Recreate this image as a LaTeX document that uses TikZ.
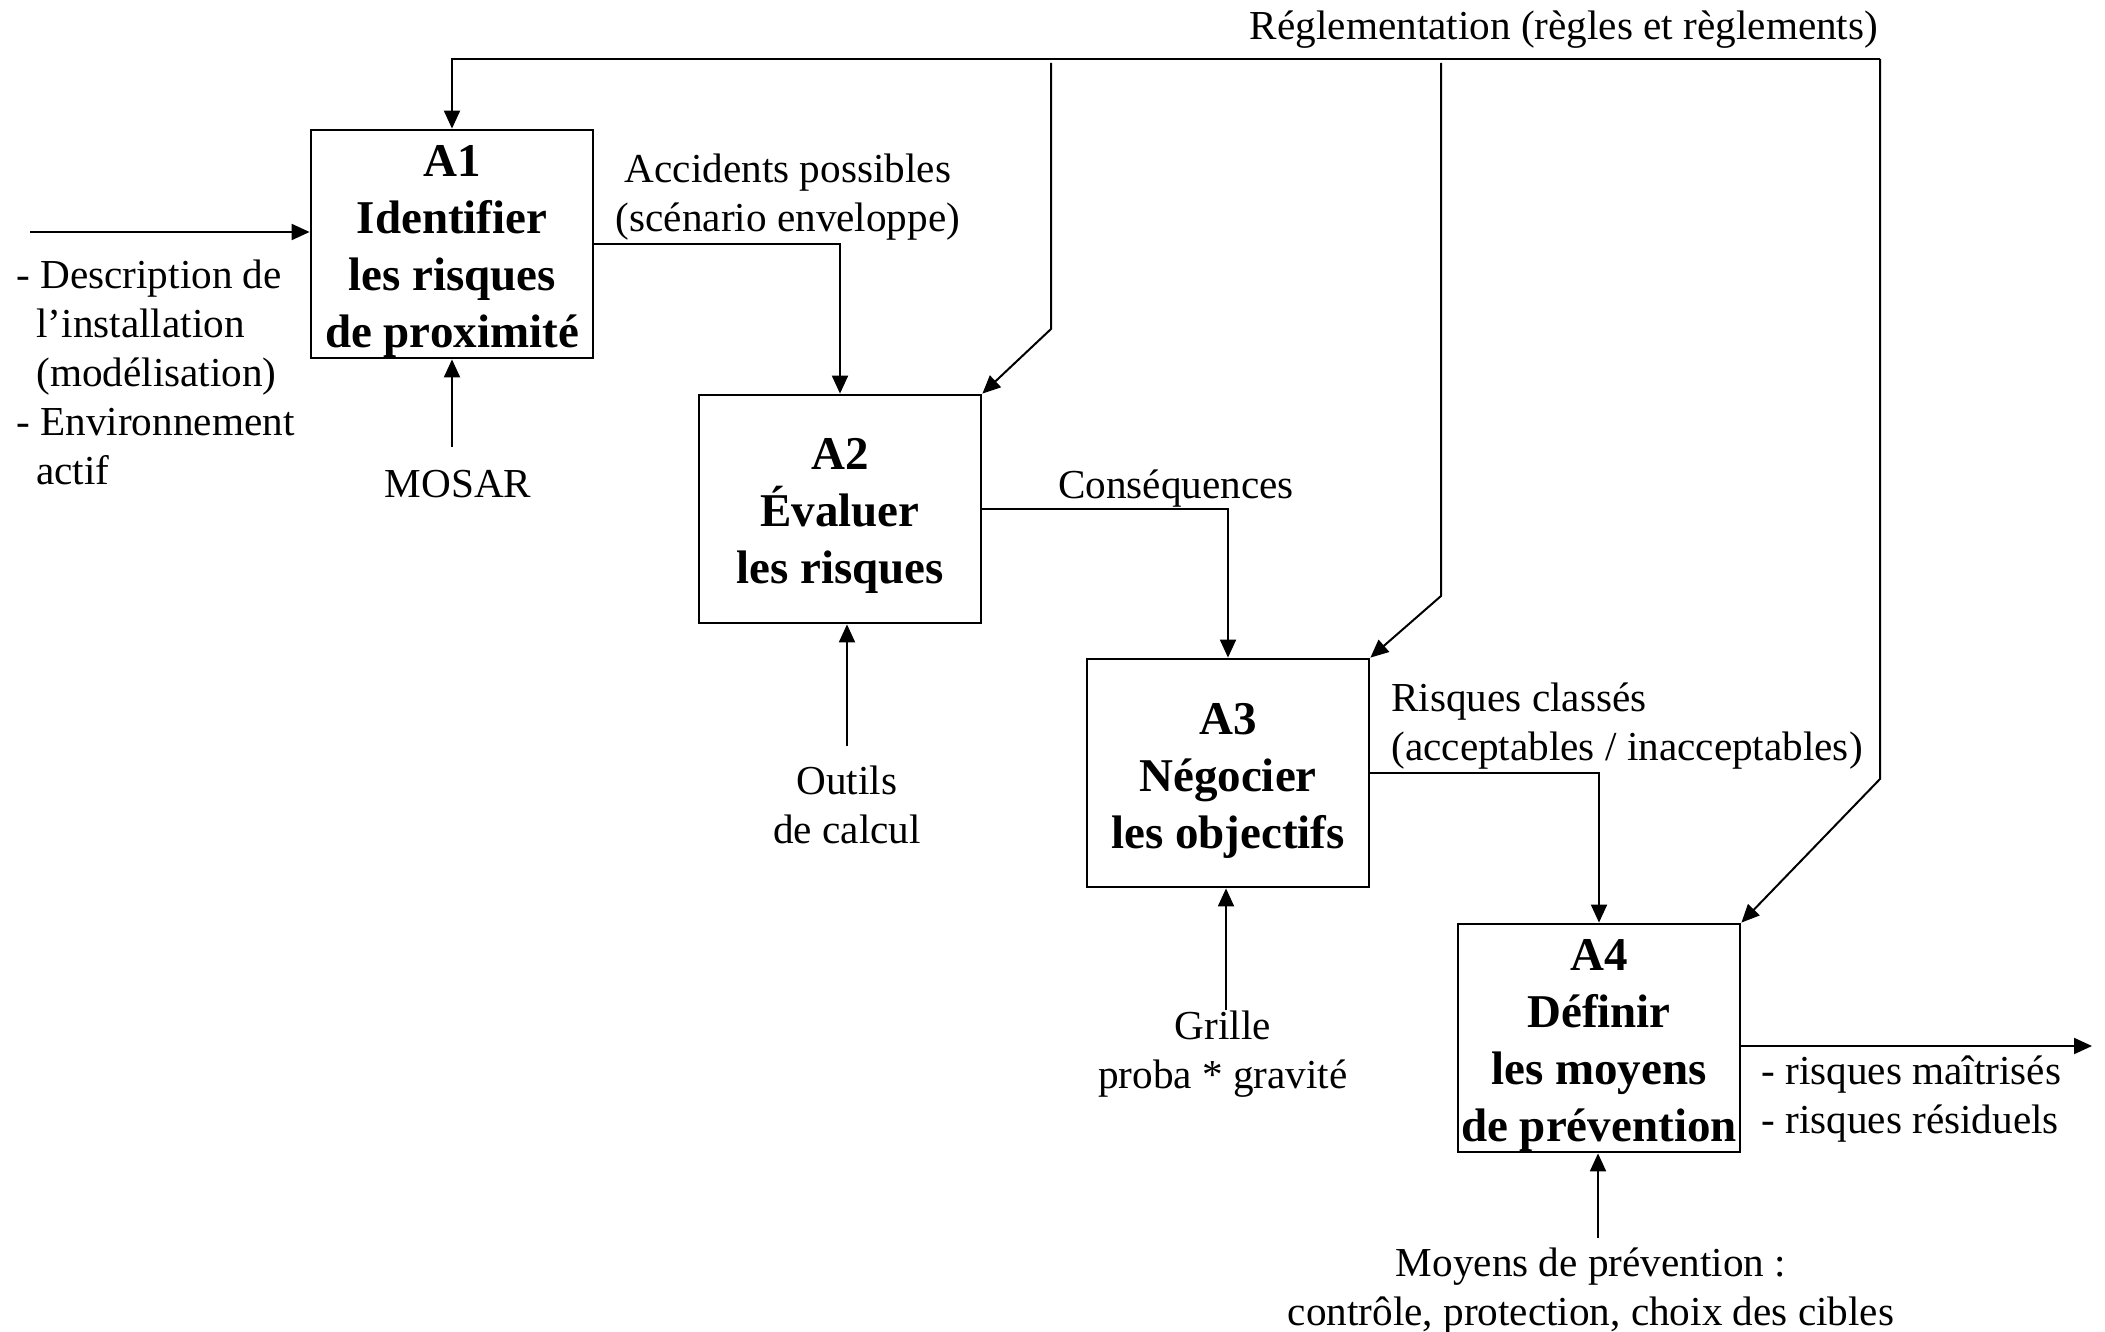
\documentclass[tikz,border=0pt]{standalone}
\usepackage{fontspec}
\setmainfont{Liberation Serif}
\usetikzlibrary{arrows.meta}
\begin{document}
\begin{tikzpicture}[x=0.5pt,y=-0.5pt,
  box/.style={draw, line width=1.4pt, minimum width=141pt, minimum height=114pt,
    inner sep=0pt, align=center, font=\fontsize{23.5}{28.5}\selectfont\bfseries},
  lbl/.style={inner sep=0pt, font=\fontsize{20.6}{24.5}\selectfont},
  flow/.style={line width=1pt, -{Triangle[length=9pt,width=8pt]}},
  plain/.style={line width=1pt}
]
\useasboundingbox (0,0) rectangle (2105,1332);

% activity boxes (first-line strut lowers the text block slightly)
\newcommand\firstline{\rule{0pt}{23pt}}
\node[box] (A1) at (452,244) {\firstline A1\\Identifier\\les risques\\de proximité};
\node[box] (A2) at (840,509) {\firstline A2\\Évaluer\\les risques};
\node[box] (A3) at (1228,773) {\firstline A3\\Négocier\\les objectifs};
\node[box] (A4) at (1599,1038) {\firstline A4\\Définir\\les moyens\\de prévention};

% control: regulations
\node[lbl] (reg) at (1564,30) {Réglementation (règles et règlements)};
\coordinate (topR) at (1880,59);
\coordinate (topL) at (A1.north |- topR);
\draw[flow] (topR) -- (topL) -- (A1.north);
\coordinate (c2a) at (1051,63);
\coordinate (c2b) at (1051,329);
\draw[flow] (c2a) -- (c2b) -- (A2.north east);
\coordinate (c3a) at (1441,63);
\coordinate (c3b) at (1441,596);
\draw[flow] (c3a) -- (c3b) -- (A3.north east);
\coordinate (c4b) at (1880,779);
\draw[flow] (topR) -- (c4b) -- (A4.north east);

% input
\coordinate (in) at (30,232);
\draw[flow] (in) -- (in -| A1.west);
\node[lbl, align=left, anchor=west] (inlbl) at (16,372)
  {- Description de\\\hspace*{10pt}l’installation\\\hspace*{10pt}(modélisation)\\- Environnement\\\hspace*{10pt}actif};

% outputs between activities
\draw[flow] (A1.east) -| (A2.north);
\node[lbl, align=center] (o1) at (788,197) {Accidents possibles\\(scénario enveloppe)};
\draw[flow] (A2.east) -| (A3.north);
\node[lbl] (o2) at (1176,489) {Conséquences};
\draw[flow] (A3.east) -| (A4.north);
\node[lbl, align=left, anchor=west] (o3) at (1391,726) {Risques classés\\(acceptables / inacceptables)};

% final output
\coordinate (out) at (2092,1046);
\draw[flow] (A4.east |- out) -- (out);
\node[lbl, align=left, anchor=west] (o4) at (1761,1099) {- risques maîtrisés\\- risques résiduels};

% mechanisms
\node[lbl] (m1) at (458,484) {MOSAR};
\coordinate (m1a) at (452,447);
\draw[flow] (m1a) -- (A1.south);
\node[lbl, align=center] (m2) at (847,805) {Outils\\de calcul};
\coordinate (m2a) at (847,746);
\draw[flow] (m2a) -- (A2.south -| m2a);
\node[lbl, align=center] (m3) at (1223,1054) {Grille\\proba * gravité};
\coordinate (m3a) at (1226,1010);
\draw[flow] (m3a) -- (A3.south -| m3a);
\node[lbl, align=center] (m4) at (1591,1291) {Moyens de prévention :\\contrôle, protection, choix des cibles};
\coordinate (m4a) at (1598,1238);
\draw[flow] (m4a) -- (A4.south -| m4a);
\end{tikzpicture}
\end{document}
